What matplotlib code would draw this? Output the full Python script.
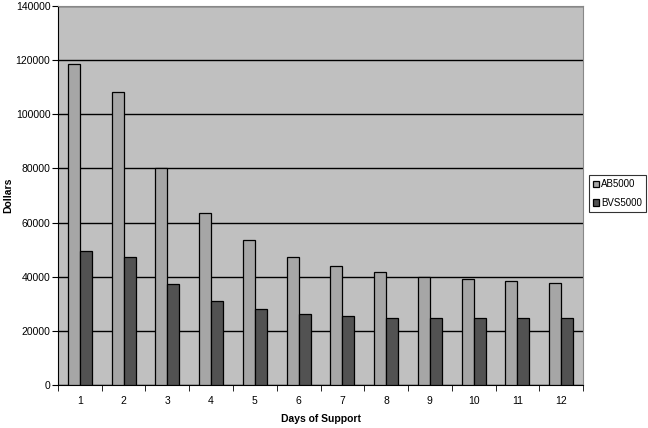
import matplotlib
matplotlib.use("Agg")
import matplotlib.pyplot as plt
import numpy as np

days = ["1", "2", "3", "4", "5", "6", "7", "8", "9", "10", "11", "12"]
ab5000 = [118500, 108200, 80000, 63500, 53500, 47300, 44000, 41700, 40000, 39000, 38300, 37600]
bvs5000 = [49500, 47200, 37300, 31100, 27900, 26300, 25400, 24900, 24900, 24900, 24900, 24900]
yticks = [0, 20000, 40000, 60000, 80000, 100000, 120000, 140000]

plt.rcParams['font.family'] = ['Liberation Sans', 'DejaVu Sans']

fig = plt.figure(figsize=(6.48, 4.28), dpi=100)
ax = fig.add_axes([0.0895, 0.1005, 0.8102, 0.8855])
ax.set_facecolor('#c0c0c0')

x = np.arange(len(days))
w = 0.275
ax.bar(x - w / 2, ab5000, w, color='#a6a6a6', edgecolor='black', linewidth=0.9, label='AB5000', zorder=3)
ax.bar(x + w / 2, bvs5000, w, color='#525252', edgecolor='black', linewidth=0.9, label='BVS5000', zorder=3)

ax.set_xlim(-0.5, len(days) - 0.5)
ax.set_ylim(0, 140000)
ax.set_yticks(yticks)
ax.set_yticklabels([str(v) for v in yticks], fontsize=7.5)
ax.yaxis.grid(True, color='black', linewidth=1.0, zorder=1)
ax.set_axisbelow(True)

ax.set_xticks(x)
ax.set_xticklabels(days, fontsize=7.5)
ax.tick_params(axis='x', length=0, pad=8)
ax.set_xticks(np.arange(-0.5, len(days), 1.0), minor=True)
ax.tick_params(axis='x', which='minor', length=4, direction='out', color='black')
ax.tick_params(axis='y', length=4, direction='out', pad=1.5)

for s in ['top', 'right']:
    ax.spines[s].set_color('#888888')
ax.spines['left'].set_color('black')
ax.spines['bottom'].set_color('black')

ax.set_xlabel('Days of Support', fontsize=7.5, fontweight='bold', labelpad=6)
ax.set_ylabel('Dollars', fontsize=7.5, fontweight='bold', labelpad=2)

leg = ax.legend(loc='center left', bbox_to_anchor=(1.012, 0.505), fontsize=7,
                frameon=True, fancybox=False, edgecolor='black', handlelength=0.6,
                handleheight=0.6, handletextpad=0.2, borderpad=0.4, borderaxespad=0,
                labelspacing=0.9)
leg.get_frame().set_linewidth(0.8)

fig.savefig('out.png', dpi=100, facecolor='white')
